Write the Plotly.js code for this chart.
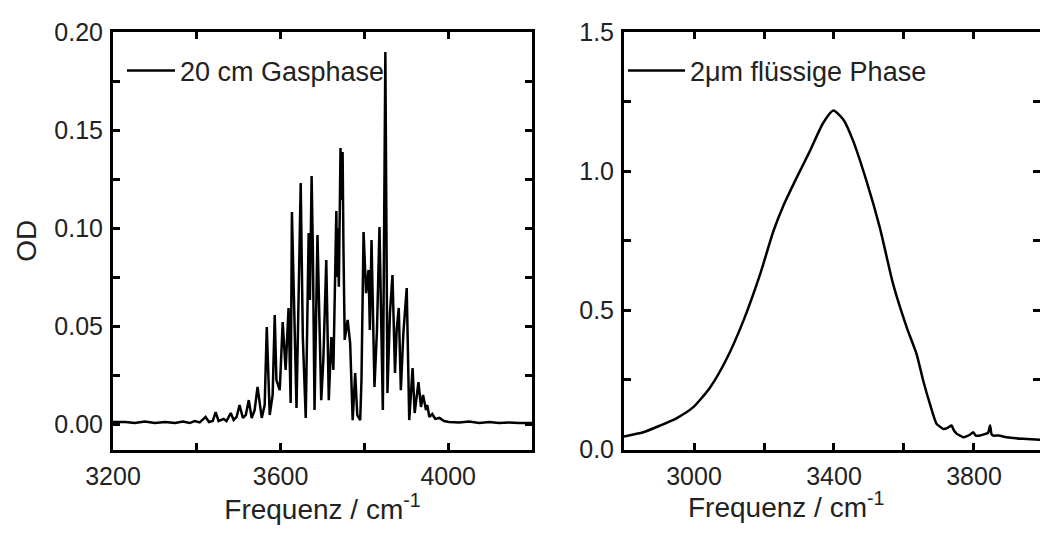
<!DOCTYPE html>
<html><head><meta charset="utf-8">
<script src="https://cdn.plot.ly/plotly-3.0.1.min.js"></script>
<style>html,body{margin:0;padding:0;background:#fff}#chart{width:1040px;height:533px}</style>
</head><body><div id="chart"></div>
<script>
// Gas phase (20 cm) spectrum, frequency in cm^-1 and optical density
const gasFreq = [3200,3229,3252,3276,3300,3324,3348,3367,3383,3395,3407,3421,3429,3438,3445,3452,3464,3471,3481,3488,3495,3502,3510,3517,3524,3531,3538,3545,3555,3562,3567,3574,3581,3586,3590,3598,3605,3612,3619,3624,3627,3633,3638,3648,3653,3660,3667,3670,3674,3677,3681,3688,3697,3702,3709,3715,3721,3726,3733,3735,3737,3739,3743,3745,3748,3750,3753,3760,3766,3772,3778,3783,3790,3793,3798,3804,3810,3813,3817,3824,3830,3836,3844,3850,3855,3861,3867,3873,3877,3882,3887,3893,3901,3907,3915,3920,3929,3935,3940,3947,3950,3955,3962,3969,3979,3990,4002,4026,4050,4074,4098,4121,4145,4169,4200];
const gasOD = [0.001,0.001,0.0005,0.0013,0.0005,0.001,0.0005,0.0013,0.0005,0.0015,0.0008,0.0036,0.001,0.0015,0.0061,0.0015,0.0026,0.0015,0.0056,0.002,0.0036,0.0097,0.0031,0.0046,0.0122,0.0031,0.0071,0.0189,0.0031,0.0097,0.0495,0.0046,0.0148,0.0556,0.0224,0.0173,0.052,0.0276,0.0592,0.0107,0.1082,0.048,0.0082,0.1229,0.0444,0.0031,0.0975,0.0633,0.1265,0.0888,0.0071,0.0964,0.0122,0.0327,0.0837,0.0122,0.0444,0.0276,0.1087,0.075,0.1,0.07,0.1408,0.1143,0.1388,0.09,0.0429,0.0531,0.0413,0.002,0.026,0.0046,0.002,0.0224,0.098,0.0668,0.0786,0.048,0.0939,0.0189,0.048,0.1005,0.0071,0.1898,0.0158,0.0566,0.076,0.026,0.048,0.0592,0.0173,0.0464,0.0694,0.002,0.0286,0.0056,0.0214,0.0087,0.0148,0.0071,0.0097,0.0036,0.0051,0.0026,0.0031,0.0015,0.001,0.0008,0.0013,0.0005,0.001,0.0005,0.0008,0.0005,0.0005];

// Liquid phase (2 um) spectrum
const liqFreq = [2800,2855,2903,2951,2998,3046,3093,3141,3189,3227,3255,3293,3331,3369,3398,3427,3455,3493,3531,3569,3608,3636,3655,3674,3693,3705,3712,3725,3736,3742,3751,3760,3769,3780,3790,3798,3805,3817,3830,3840,3846,3850,3855,3870,3893,3920,3951,3989];
const liqOD = [0.047,0.062,0.086,0.113,0.152,0.223,0.325,0.462,0.630,0.785,0.875,0.976,1.072,1.173,1.218,1.185,1.108,0.964,0.797,0.594,0.438,0.343,0.247,0.164,0.092,0.080,0.074,0.078,0.086,0.070,0.056,0.050,0.044,0.048,0.055,0.062,0.050,0.050,0.055,0.060,0.086,0.055,0.050,0.050,0.044,0.040,0.038,0.035];

const gasLabel = '20 cm Gasphase';
const liqLabel = '2\u03bcm fl\u00fcssige Phase';
const xTitle = 'Frequenz / cm<sup>-1</sup>';
const yTitle = 'OD';

const FONT = '"Liberation Sans", Arial, Helvetica, sans-serif';
const TXT = '#222';

function axisBase(extra) {
  return Object.assign({
    showline: true, linecolor: '#000', linewidth: 3, mirror: 'allticks',
    ticks: 'inside', ticklen: 7, tickwidth: 3, tickcolor: '#000',
    showgrid: false, zeroline: false, ticklabelstandoff: 2,
    tickfont: {family: FONT, size: 25, color: TXT}
  }, extra);
}
function minorTicks(dt, t0) {
  return {ticks: 'inside', ticklen: 7, tickwidth: 3, tickcolor: '#000', showgrid: false, dtick: dt, tick0: t0};
}

const traces = [
  {x: gasFreq, y: gasOD, xaxis: 'x', yaxis: 'y', type: 'scatter', mode: 'lines',
   name: gasLabel, line: {color: '#000', width: 2.5}, legend: 'legend'},
  {x: liqFreq, y: liqOD, xaxis: 'x2', yaxis: 'y2', type: 'scatter', mode: 'lines',
   name: liqLabel, line: {color: '#000', width: 2.5, shape: 'spline', smoothing: 0.6}, legend: 'legend2'}
];

const layout = {
  width: 1040, height: 533,
  margin: {l: 0, r: 0, t: 0, b: 0},
  paper_bgcolor: '#fff', plot_bgcolor: '#fff',
  font: {family: FONT, color: TXT},
  showlegend: true,
  xaxis: axisBase({
    domain: [113/1040, 532/1040], range: [3200, 4200], anchor: 'y',
    tick0: 3200, dtick: 400, minor: minorTicks(200, 3200),
    title: {text: xTitle, font: {family: FONT, size: 28, color: TXT}, standoff: 10}
  }),
  yaxis: axisBase({
    domain: [1 - 449.5/533, 1 - 32/533], range: [-0.013, 0.2], anchor: 'x',
    tick0: 0, dtick: 0.05, tickformat: '.2f', minor: minorTicks(0.025, 0),
    title: {text: yTitle, font: {family: FONT, size: 28, color: TXT}, standoff: 10}
  }),
  xaxis2: axisBase({
    domain: [624/1040, 1], range: [2800, 3988.6], anchor: 'y2',
    tick0: 3000, dtick: 400, minor: minorTicks(200, 2800)
  }),
  yaxis2: axisBase({
    domain: [1 - 449.5/533, 1 - 32/533], range: [0, 1.5], anchor: 'x2',
    tick0: 0, dtick: 0.5, tickformat: '.1f', minor: minorTicks(0.25, 0)
  }),
  legend: {
    x: 122/1040, xanchor: 'left', y: 1 - 71/533, yanchor: 'middle',
    bgcolor: 'rgba(0,0,0,0)', borderwidth: 0, itemwidth: 48,
    font: {family: FONT, size: 27, color: TXT}
  },
  legend2: {
    x: 623/1040, xanchor: 'left', y: 1 - 71/533, yanchor: 'middle',
    bgcolor: 'rgba(0,0,0,0)', borderwidth: 0, itemwidth: 57,
    font: {family: FONT, size: 27, color: TXT}
  },
  annotations: [
    {text: xTitle, xref: 'paper', yref: 'paper', x: 786/1040, y: 1 - 505/533,
     xanchor: 'center', yanchor: 'middle', showarrow: false,
     font: {family: FONT, size: 28, color: TXT}}
  ]
};

Plotly.newPlot('chart', traces, layout, {staticPlot: true, displayModeBar: false});
</script>
</body></html>
